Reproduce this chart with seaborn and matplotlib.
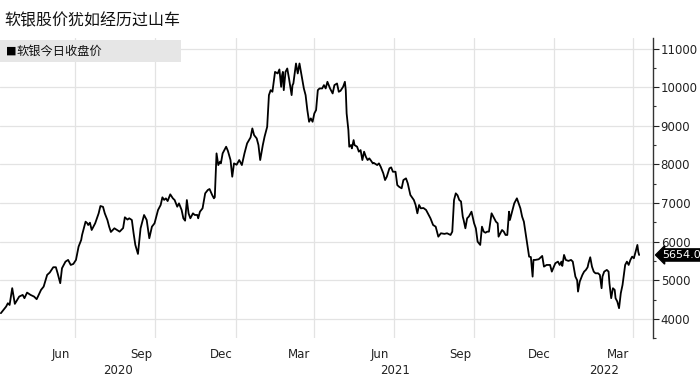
import matplotlib
matplotlib.use("Agg")
import matplotlib.pyplot as plt
import matplotlib.dates as mdates
import matplotlib.transforms as mtransforms
from matplotlib.patches import Rectangle
from matplotlib.ticker import MultipleLocator
import pandas as pd
import seaborn as sns

title = "软银股价犹如经历过山车"
series_name = "软银今日收盘价"
last_label = "5654.0"
last_value = 5654.0

dates = [
    "2020-04-07", "2020-04-13", "2020-04-15", "2020-04-17", "2020-04-20", "2020-04-23", "2020-04-28",
    "2020-05-02", "2020-05-04", "2020-05-07", "2020-05-11", "2020-05-15", "2020-05-18", "2020-05-23", "2020-05-26", "2020-05-30",
    "2020-06-02", "2020-06-06", "2020-06-09", "2020-06-11", "2020-06-14", "2020-06-16", "2020-06-20", "2020-06-23", "2020-06-26", "2020-06-29",
    "2020-07-02", "2020-07-05", "2020-07-08", "2020-07-09", "2020-07-13", "2020-07-15", "2020-07-16", "2020-07-18", "2020-07-20", "2020-07-24", "2020-07-28", "2020-07-30",
    "2020-08-02", "2020-08-04", "2020-08-07", "2020-08-09", "2020-08-11", "2020-08-15", "2020-08-18", "2020-08-21", "2020-08-25", "2020-08-27", "2020-08-30",
    "2020-09-01", "2020-09-04", "2020-09-06", "2020-09-08", "2020-09-11", "2020-09-14", "2020-09-18", "2020-09-21", "2020-09-24", "2020-09-27", "2020-09-30",
    "2020-10-04", "2020-10-07", "2020-10-09", "2020-10-11", "2020-10-13", "2020-10-15", "2020-10-18", "2020-10-21", "2020-10-23", "2020-10-26", "2020-10-28", "2020-10-31",
    "2020-11-02", "2020-11-04", "2020-11-05", "2020-11-06", "2020-11-08", "2020-11-10", "2020-11-13", "2020-11-15", "2020-11-18", "2020-11-19", "2020-11-21", "2020-11-24", "2020-11-27", "2020-11-30",
    "2020-12-02", "2020-12-05", "2020-12-07", "2020-12-08", "2020-12-10", "2020-12-12", "2020-12-14", "2020-12-15", "2020-12-17", "2020-12-19", "2020-12-21", "2020-12-23", "2020-12-26", "2020-12-28", "2020-12-30",
    "2021-01-02", "2021-01-05", "2021-01-08", "2021-01-11", "2021-01-14", "2021-01-18", "2021-01-20", "2021-01-22", "2021-01-25", "2021-01-27", "2021-01-29",
    "2021-02-01", "2021-02-03", "2021-02-06", "2021-02-08", "2021-02-10", "2021-02-12", "2021-02-15", "2021-02-18", "2021-02-20", "2021-02-22", "2021-02-23", "2021-02-24", "2021-02-25", "2021-02-27",
    "2021-03-01", "2021-03-03", "2021-03-06", "2021-03-07", "2021-03-08", "2021-03-11", "2021-03-13", "2021-03-15", "2021-03-17", "2021-03-20", "2021-03-22", "2021-03-24", "2021-03-26", "2021-03-28", "2021-03-30",
    "2021-04-01", "2021-04-03", "2021-04-05", "2021-04-07", "2021-04-10", "2021-04-12", "2021-04-14", "2021-04-16", "2021-04-19", "2021-04-22", "2021-04-24", "2021-04-27", "2021-04-29",
    "2021-05-01", "2021-05-04", "2021-05-06", "2021-05-07", "2021-05-08", "2021-05-10", "2021-05-11", "2021-05-13", "2021-05-14", "2021-05-16", "2021-05-17", "2021-05-20", "2021-05-22", "2021-05-24", "2021-05-26", "2021-05-28", "2021-05-30",
    "2021-06-01", "2021-06-03", "2021-06-05", "2021-06-07", "2021-06-08", "2021-06-12", "2021-06-14", "2021-06-16", "2021-06-19", "2021-06-21", "2021-06-23", "2021-06-26", "2021-06-28", "2021-06-30",
    "2021-07-03", "2021-07-05", "2021-07-07", "2021-07-10", "2021-07-12", "2021-07-15", "2021-07-17", "2021-07-20", "2021-07-24", "2021-07-26", "2021-07-28", "2021-07-30",
    "2021-08-01", "2021-08-04", "2021-08-07", "2021-08-09", "2021-08-12", "2021-08-15", "2021-08-18", "2021-08-21", "2021-08-24", "2021-08-28", "2021-08-31",
    "2021-09-04", "2021-09-06", "2021-09-08", "2021-09-10", "2021-09-12", "2021-09-14", "2021-09-16", "2021-09-18", "2021-09-19", "2021-09-21", "2021-09-23", "2021-09-25", "2021-09-28",
    "2021-10-01", "2021-10-03", "2021-10-05", "2021-10-08", "2021-10-10", "2021-10-12", "2021-10-14", "2021-10-16", "2021-10-18", "2021-10-21", "2021-10-23", "2021-10-26", "2021-10-28", "2021-10-29", "2021-10-31",
    "2021-11-02", "2021-11-04", "2021-11-06", "2021-11-08", "2021-11-10", "2021-11-11", "2021-11-14", "2021-11-16", "2021-11-19", "2021-11-21", "2021-11-23", "2021-11-25", "2021-11-27", "2021-11-29",
    "2021-12-01", "2021-12-03", "2021-12-05", "2021-12-07", "2021-12-08", "2021-12-10", "2021-12-14", "2021-12-18", "2021-12-20", "2021-12-23", "2021-12-27", "2021-12-29",
    "2022-01-02", "2022-01-05", "2022-01-07", "2022-01-09", "2022-01-10", "2022-01-12", "2022-01-14", "2022-01-17", "2022-01-20", "2022-01-22", "2022-01-23", "2022-01-25", "2022-01-27", "2022-01-28", "2022-01-30",
    "2022-02-02", "2022-02-04", "2022-02-06", "2022-02-08", "2022-02-09", "2022-02-11", "2022-02-13", "2022-02-15", "2022-02-17", "2022-02-20", "2022-02-22", "2022-02-24", "2022-02-25", "2022-02-27",
    "2022-03-02", "2022-03-04", "2022-03-05", "2022-03-07", "2022-03-09", "2022-03-11", "2022-03-12", "2022-03-14", "2022-03-16", "2022-03-18", "2022-03-20", "2022-03-21", "2022-03-23", "2022-03-25", "2022-03-27", "2022-03-29", "2022-03-31",
    "2022-04-02", "2022-04-04", "2022-04-06", "2022-04-07", "2022-04-08",
]

prices = [
    4147, 4318, 4405, 4360, 4795, 4388, 4577,
    4620, 4535, 4680, 4620, 4577, 4509, 4750, 4835, 5138,
    5200, 5337, 5337, 5180, 4923, 5311, 5482, 5526, 5396, 5422,
    5526, 5870, 6043, 6172, 6516, 6474, 6430, 6490, 6301, 6474, 6733, 6922,
    6900, 6733, 6560, 6387, 6250, 6345, 6300, 6258, 6350, 6630, 6570,
    6604, 6560, 6216, 5914, 5681, 6345, 6689, 6560, 6087, 6387, 6474,
    6819, 6948, 7147, 7080, 7120, 7050, 7224, 7120, 7077, 6904, 6990, 6819,
    6604, 6542, 6800, 7077, 6730, 6604, 6733, 6690, 6690, 6604, 6775, 6862, 7250, 7336,
    7362, 7207, 7121, 7150, 8285, 7982, 8070, 8026, 8285, 8370, 8457, 8350, 8112, 7680, 8026,
    7990, 8112, 7982, 8285, 8543, 8699, 8931, 8758, 8672, 8500, 8112,
    8500, 8715, 8973, 9793, 9922, 9880, 10395, 10354, 10458, 10007, 10300, 10395, 9922, 10395,
    10483, 10224, 9793, 10050, 10095, 10612, 10354, 10612, 10354, 9966, 9793, 9405, 9103, 9190, 9103,
    9319, 9405, 9922, 9966, 9966, 10052, 9966, 10138, 9966, 9836, 10052, 10095, 9879,
    9905, 10009, 10138, 9922, 9319, 8888, 8457, 8500, 8414, 8629, 8500, 8457, 8328, 8370, 8112, 8328, 8198,
    8112, 8155, 8094, 8026, 8040, 7982, 8026, 7939, 7767, 7594, 7680, 7897, 7922, 7809,
    7809, 7465, 7421, 7380, 7594, 7638, 7509, 7207, 7077, 6948, 6733, 6948,
    6862, 6870, 6819, 6733, 6604, 6431, 6387, 6128, 6216, 6200, 6216,
    6172, 6258, 7077, 7250, 7200, 7077, 7040, 6646, 6560, 6345, 6604, 6650, 6775,
    6474, 6345, 6000, 5914, 6387, 6258, 6230, 6258, 6258, 6733, 6646, 6516, 6474, 6128, 6216,
    6301, 6258, 6172, 6172, 6775, 6560, 6819, 6992, 7121, 6992, 6862, 6646, 6516, 6216,
    5914, 5611, 5600, 5094, 5526, 5526, 5543, 5629, 5352, 5396, 5396, 5223,
    5440, 5482, 5396, 5482, 5370, 5655, 5526, 5500, 5526, 5482, 5352, 5094, 5000, 4706, 4965,
    5138, 5223, 5267, 5337, 5440, 5595, 5352, 5223, 5180, 5180, 5138, 4793, 5094, 5223,
    5267, 5223, 4923, 4535, 4793, 4750, 4535, 4448, 4276, 4665, 4879, 5052, 5396, 5482, 5396, 5526, 5611,
    5570, 5740, 5914, 5740, 5654,
]

month_labels = ["Jun", "Sep", "Dec", "Mar", "Jun", "Sep", "Dec", "Mar"]
month_label_dates = ["2020-06-15", "2020-09-15", "2020-12-15", "2021-03-15",
                     "2021-06-15", "2021-09-15", "2021-12-15", "2022-03-15"]
grid_dates = ["2020-07-01", "2020-10-01", "2021-01-01", "2021-04-01",
              "2021-07-01", "2021-10-01", "2022-01-01", "2022-04-01"]
year_labels = ["2020", "2021", "2022"]
y_ticks = [4000, 5000, 6000, 7000, 8000, 9000, 10000, 11000]

df = pd.DataFrame({"date": pd.to_datetime(dates), "price": prices})

sns.set_theme(style="white")
plt.rcParams["font.family"] = ["Noto Sans CJK SC", "DejaVu Sans"]
num_font = ["DejaVu Sans"]

fig = plt.figure(figsize=(7.0, 3.77), dpi=100)
ax = fig.add_axes([0.0, 0.103, 0.933, 0.796])

sns.lineplot(data=df, x="date", y="price", ax=ax, color="black", linewidth=1.3)

x_left = pd.Timestamp("2020-04-06")
x_right = pd.Timestamp("2022-04-24")
ax.set_xlim(x_left, x_right)
ax.set_ylim(3500, 11270)

grid_color = "#e3e3e3"
ax.set_xticks(pd.to_datetime(grid_dates))
ax.set_xticks(pd.to_datetime(month_label_dates), minor=True)
ax.set_xticklabels([], minor=False)
ax.set_xticklabels(month_labels, minor=True)
ax.tick_params(axis="x", which="both", length=0, pad=7, labelsize=8.5, colors="#222222")
ax.grid(axis="x", which="major", color=grid_color, linewidth=0.9)

ax.yaxis.tick_right()
ax.set_yticks(y_ticks)
ax.set_yticklabels([str(v) for v in y_ticks])
ax.yaxis.set_minor_locator(MultipleLocator(500))
ax.tick_params(axis="y", which="major", direction="out", length=4, width=0.8,
               labelsize=8.5, colors="#222222", pad=1.5)
ax.tick_params(axis="y", which="minor", direction="out", length=2.5, width=0.8,
               colors="#333333", right=True)
ax.grid(axis="y", which="major", color=grid_color, linewidth=0.9)

for side in ["top", "left", "bottom"]:
    ax.spines[side].set_visible(False)
ax.spines["right"].set_color("#333333")
ax.spines["right"].set_linewidth(1.0)

ax.set_xlabel("")
ax.set_ylabel("")

for lbl in ax.get_xticklabels(minor=True) + ax.get_yticklabels():
    lbl.set_family(num_font)

trans = mtransforms.blended_transform_factory(ax.transData, ax.transAxes)
bounds = [x_left, pd.Timestamp("2021-01-01"), pd.Timestamp("2022-01-01"), x_right]
for i, yl in enumerate(year_labels):
    mid = bounds[i] + (bounds[i + 1] - bounds[i]) / 2
    ax.text(mdates.date2num(mid), -0.085, yl, transform=trans, ha="center", va="top",
            fontsize=8.5, color="#222222", family=num_font)

ytrans = mtransforms.blended_transform_factory(ax.transAxes, ax.transData)
ax.text(1.0135, last_value, last_label, transform=ytrans, ha="left", va="center",
        color="white", fontsize=8, family=num_font,
        bbox=dict(boxstyle="larrow,pad=0.1", fc="black", ec="black"))

fig.text(0.006, 0.945, title, ha="left", va="center", fontsize=11.5, color="#111111")

fig.patches.append(Rectangle((0.0, 0.836), 0.258, 0.058, transform=fig.transFigure,
                             facecolor="#e6e6e6", edgecolor="none", zorder=3))
fig.text(0.008, 0.865, "■", ha="left", va="center", fontsize=8, color="black",
         family=["DejaVu Sans"], zorder=4)
fig.text(0.024, 0.865, series_name, ha="left", va="center", fontsize=8.8, color="#111111",
         zorder=4)

fig.savefig("out.png", dpi=100)
